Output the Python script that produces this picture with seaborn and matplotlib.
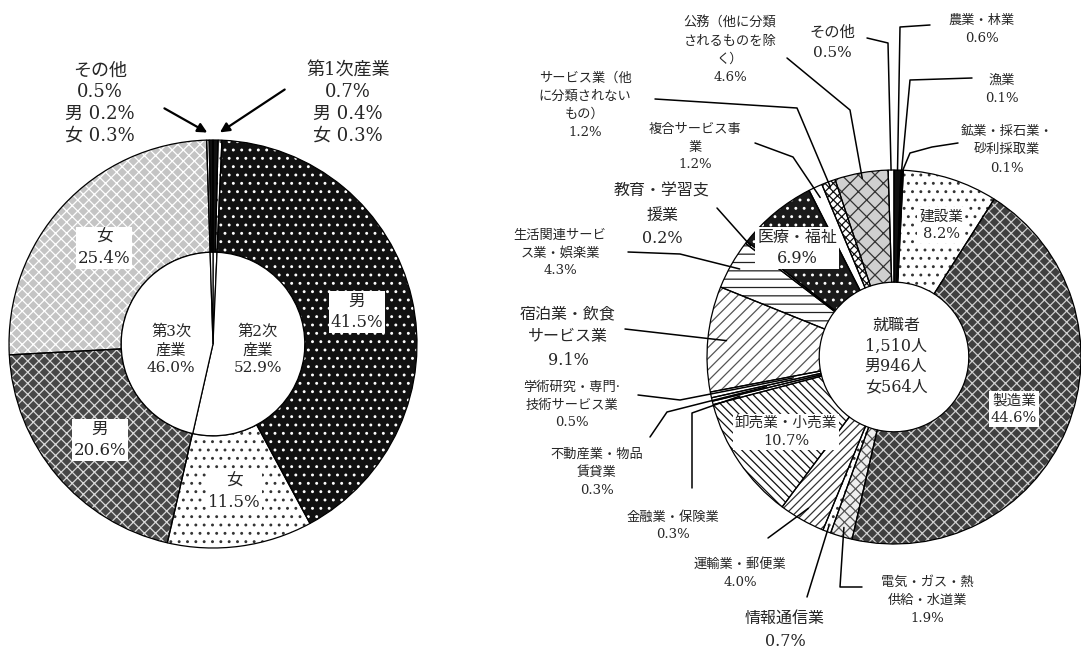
import matplotlib
matplotlib.use("Agg")
import matplotlib.pyplot as plt
import numpy as np
import seaborn as sns

# ---- left chart: 産業3部門別の就職者割合 ----
sector_names = ["第1次産業", "第2次産業", "第3次産業", "その他"]
sector_pct = [0.7, 52.9, 46.0, 0.5]
sector_male_pct = [0.4, 41.5, 20.6, 0.2]
sector_female_pct = [0.3, 11.5, 25.4, 0.3]

# ---- right chart: 産業別の就職者割合 ----
industry_names = [
    "農業・林業", "漁業", "鉱業・採石業・\n砂利採取業", "建設業", "製造業",
    "電気・ガス・熱\n供給・水道業", "情報通信業", "運輸業・郵便業", "卸売業・小売業",
    "金融業・保険業", "不動産業・物品\n賃貸業", "学術研究・専門·\n技術サービス業",
    "宿泊業・飲食\nサービス業", "生活関連サービ\nス業・娯楽業", "教育・学習支\n援業",
    "医療・福祉", "複合サービス事\n業", "サービス業（他\nに分類されない\nもの）",
    "公務（他に分類\nされるものを除\nく）", "その他",
]
industry_pct = [0.6, 0.1, 0.1, 8.2, 44.6, 1.9, 0.7, 4.0, 10.7, 0.3,
                0.3, 0.5, 9.1, 4.3, 0.2, 6.9, 1.2, 1.2, 4.6, 0.5]
employed_total = 1510
employed_male = 946
employed_female = 564

W, H = 1081, 651
TXT = "#262626"

sns.set_theme(style="white", rc={"hatch.linewidth": 0.9})
plt.rcParams["font.family"] = ["DejaVu Serif", "Noto Sans CJK JP"]

fig = plt.figure(figsize=(W / 100, H / 100), dpi=100)


def pie_axes(cx, cy, r, x0, x1):
    ax = fig.add_axes([x0 / W, 0, (x1 - x0) / W, 1])
    return ax, (cx, cy, r, x0, x1)


def fix_limits(ax, geo):
    cx, cy, r, x0, x1 = geo
    ax.set_xlim((x0 - cx) / r, (x1 - cx) / r)
    ax.set_ylim(-(H - cy) / r, cy / r)
    ax.set_aspect("auto")
    ax.axis("off")


def draw_ring(ax, values, styles, radius, width):
    # hatch layer first (hatch colour follows edgecolor), then outlines on top
    fills, _ = ax.pie(values, startangle=90, counterclock=False, radius=radius,
                      wedgeprops=dict(width=width, linewidth=0))
    for w, (face, hatch, hcol) in zip(fills, styles):
        w.set_facecolor(face)
        w.set_edgecolor(hcol)
        w.set_linewidth(0)
        if hatch:
            w.set_hatch(hatch)
    edges, _ = ax.pie(values, startangle=90, counterclock=False, radius=radius,
                      wedgeprops=dict(width=width, facecolor="none",
                                      edgecolor="black", linewidth=0.9))
    return edges


def wedge_point(geo, t1, t2, r):
    cx, cy, rad, _, _ = geo
    th = np.deg2rad((t1 + t2) / 2)
    return cx + rad * r * np.cos(th), cy - rad * r * np.sin(th)


# ---------------- left donut ----------------
axl, geol = pie_axes(213, 344, 204, 0, 430)
left_values = []
for m, f in zip(sector_male_pct, sector_female_pct):
    left_values += [m, f]
left_styles = [
    ("#111111", None, "#111111"), ("white", "..", "#444444"),
    ("#111111", "..", "white"), ("white", "..", "#333333"),
    ("#474747", "xxx", "#d9d9d9"), ("#c4c4c4", "xxx", "white"),
    ("white", None, "white"), ("#111111", None, "#111111"),
]
left_wedges = draw_ring(axl, left_values, left_styles, 1.0, 0.55)
axl.pie(sector_pct, startangle=90, counterclock=False, radius=0.45,
        wedgeprops=dict(facecolor="white", edgecolor="black", linewidth=0.9))
fix_limits(axl, geol)

# ---------------- right donut ----------------
axr, geor = pie_axes(894, 357, 187, 440, W)
right_styles = [
    ("#111111", None, "#111111"),   # 農業・林業
    ("white", None, "white"),       # 漁業
    ("white", None, "white"),       # 鉱業
    ("white", "..", "#333333"),     # 建設業
    ("#3f3f3f", "xxx", "#cfcfcf"),  # 製造業
    ("#eeeeee", "xxx", "#555555"),  # 電気
    ("white", "..", "#333333"),     # 情報通信
    ("white", "////", "#333333"),   # 運輸
    ("white", "\\\\\\\\", "#111111"),  # 卸売
    ("white", None, "white"),       # 金融
    ("white", None, "white"),       # 不動産
    ("white", None, "white"),       # 学術
    ("white", "///", "#555555"),    # 宿泊
    ("white", "--", "#222222"),     # 生活関連
    ("white", None, "white"),       # 教育
    ("#1a1a1a", "..", "white"),     # 医療
    ("white", None, "white"),       # 複合
    ("white", "xxxx", "#111111"),   # サービス
    ("#d0d0d0", "xx", "#333333"),   # 公務
    ("white", None, "white"),       # その他
]
right_wedges = draw_ring(axr, industry_pct, right_styles, 1.0, 0.60)
fix_limits(axr, geor)

# ---------------- overlay for labels (pixel coords) ----------------
ov = fig.add_axes([0, 0, 1, 1], zorder=5)
ov.set_xlim(0, W)
ov.set_ylim(H, 0)
ov.axis("off")
ov.patch.set_alpha(0)

box = dict(facecolor="white", edgecolor="none", pad=1.5)

# left: sex labels on the ring
left_label_pos = {2: (357, 312), 3: (234, 492), 4: (100, 440), 5: (104, 248)}
for i, (x, y) in left_label_pos.items():
    sex = "男" if i % 2 == 0 else "女"
    ov.text(x, y, f"{sex}\n{left_values[i]:.1f}%", ha="center", va="center",
            fontsize=12, color=TXT, linespacing=1.3, bbox=box)

# left: sector labels in the hole
for i, x in [(1, 258), (2, 171)]:
    name = sector_names[i]
    ov.text(x, 350, f"{name[:3]}\n{name[3:]}\n{sector_pct[i]:.1f}%", ha="center",
            va="center", fontsize=11, color=TXT, linespacing=1.35)

# left: small sectors with arrows
for i, (tx, ty, sx, sy, wi) in [(0, (348, 103, 287, 88, 0)), (3, (100, 103, 162, 107, 6))]:
    ov.text(tx, ty, f"{sector_names[i]}\n{sector_pct[i]:.1f}%\n男 {sector_male_pct[i]:.1f}%\n"
            f"女 {sector_female_pct[i]:.1f}%", ha="center", va="center",
            fontsize=13, color=TXT, linespacing=1.25)
    w0, w1 = left_wedges[wi], left_wedges[wi + 1]
    ex, ey = wedge_point(geol, min(w0.theta1, w1.theta1), max(w0.theta2, w1.theta2), 1.03)
    ov.annotate("", xy=(ex, ey), xytext=(sx, sy),
                arrowprops=dict(arrowstyle="-|>", color="black", lw=1.6,
                                mutation_scale=14))

# right: labels with leader lines  (index: text pos, fontsize, elbows, end radius)
right_leaders = {
    0: ((982, 29), 9.5, [(930, 25), (900, 27)], 1.0),
    1: ((1002, 89), 9.5, [(972, 78), (910, 80)], 1.0),
    2: ((1007, 150), 9.5, [(958, 143), (932, 147), (910, 153)], 1.0),
    5: ((927, 600), 9.5, [(862, 587), (840, 587)], 0.95),
    6: ((785, 630), 11.5, [(807, 597)], 0.97),
    7: ((740, 573), 9.5, [(768, 538)], 0.93),
    9: ((673, 526), 9.5, [(692, 488), (692, 413)], 0.85),
    10: ((597, 472), 9.5, [(650, 437), (667, 412)], 0.7),
    11: ((572, 405), 9.5, [(638, 395), (680, 400)], 0.55),
    12: ((568, 337), 11.5, [(625, 329)], 0.9),
    13: ((560, 253), 9.5, [(628, 252), (680, 254)], 0.95),
    14: ((662, 215), 11.5, [(717, 208)], 0.97),
    16: ((695, 147), 9.5, [(755, 143), (793, 157)], 0.94),
    17: ((585, 105), 9.5, [(655, 99), (797, 108)], 0.97),
    18: ((730, 50), 9.5, [(787, 58), (850, 110)], 0.97),
    19: ((832, 43), 11, [(867, 38), (888, 43)], 1.0),
}
for i, ((tx, ty), fs, elbows, r_end) in right_leaders.items():
    ov.text(tx, ty, f"{industry_names[i]}\n{industry_pct[i]:.1f}%", ha="center",
            va="center", fontsize=fs, color=TXT, linespacing=1.5)
    w = right_wedges[i]
    ex, ey = wedge_point(geor, w.theta1, w.theta2, r_end)
    xs = [p[0] for p in elbows] + [ex]
    ys = [p[1] for p in elbows] + [ey]
    ov.plot(xs, ys, color="black", lw=1.1)

# right: boxed labels on the ring
right_boxed = {3: ((941, 225), 10.5), 4: ((1014, 409), 10.5),
               8: ((786, 432), 10.5), 15: ((797, 248), 11.5)}
for i, ((tx, ty), fs) in right_boxed.items():
    ov.text(tx, ty, f"{industry_names[i]}\n{industry_pct[i]:.1f}%", ha="center",
            va="center", fontsize=fs, color=TXT, linespacing=1.3, bbox=box)

ov.text(896, 356, f"就職者\n{employed_total:,}人\n男{employed_male}人\n女{employed_female}人",
        ha="center", va="center", fontsize=11.5, color=TXT, linespacing=1.25)

fig.savefig("out.png", dpi=100)
